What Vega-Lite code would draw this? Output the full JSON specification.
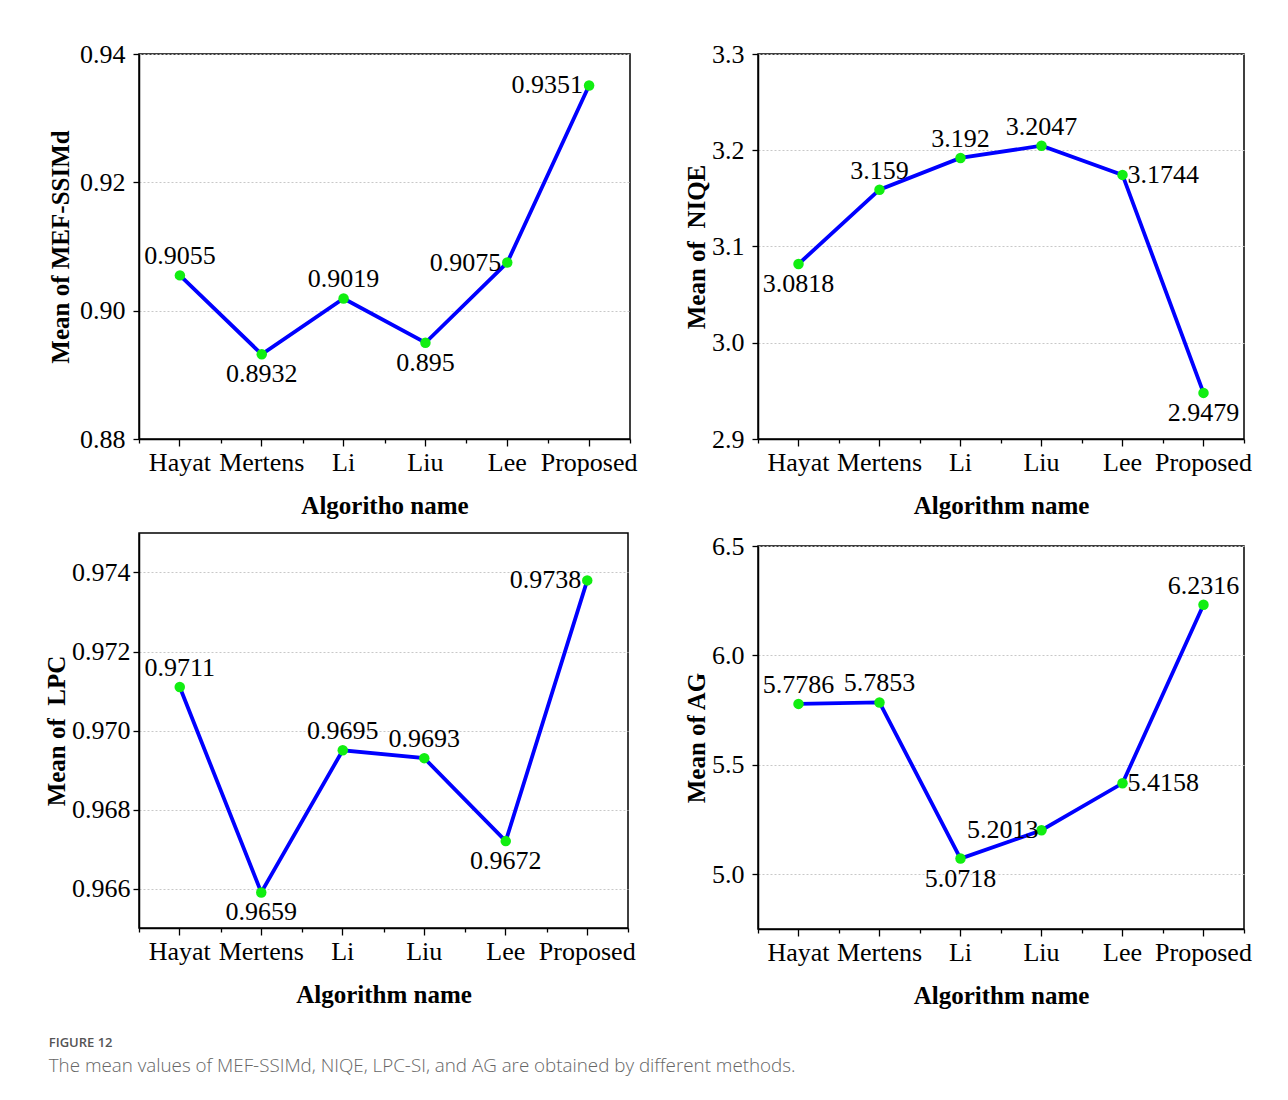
{
  "$schema": "https://vega.github.io/schema/vega-lite/v6.json",
  "background": "white",
  "padding": {"left": 43, "top": 40, "right": 10, "bottom": 10},
  "datasets": {
    "means": [
      {"metric": "MEF-SSIMd", "alg": "Hayat", "value": 0.9055},
      {"metric": "MEF-SSIMd", "alg": "Mertens", "value": 0.8932},
      {"metric": "MEF-SSIMd", "alg": "Li", "value": 0.9019},
      {"metric": "MEF-SSIMd", "alg": "Liu", "value": 0.895},
      {"metric": "MEF-SSIMd", "alg": "Lee", "value": 0.9075},
      {"metric": "MEF-SSIMd", "alg": "Proposed", "value": 0.9351},
      {"metric": "NIQE", "alg": "Hayat", "value": 3.0818},
      {"metric": "NIQE", "alg": "Mertens", "value": 3.159},
      {"metric": "NIQE", "alg": "Li", "value": 3.192},
      {"metric": "NIQE", "alg": "Liu", "value": 3.2047},
      {"metric": "NIQE", "alg": "Lee", "value": 3.1744},
      {"metric": "NIQE", "alg": "Proposed", "value": 2.9479},
      {"metric": "LPC", "alg": "Hayat", "value": 0.9711},
      {"metric": "LPC", "alg": "Mertens", "value": 0.9659},
      {"metric": "LPC", "alg": "Li", "value": 0.9695},
      {"metric": "LPC", "alg": "Liu", "value": 0.9693},
      {"metric": "LPC", "alg": "Lee", "value": 0.9672},
      {"metric": "LPC", "alg": "Proposed", "value": 0.9738},
      {"metric": "AG", "alg": "Hayat", "value": 5.7786},
      {"metric": "AG", "alg": "Mertens", "value": 5.7853},
      {"metric": "AG", "alg": "Li", "value": 5.0718},
      {"metric": "AG", "alg": "Liu", "value": 5.2013},
      {"metric": "AG", "alg": "Lee", "value": 5.4158},
      {"metric": "AG", "alg": "Proposed", "value": 6.2316}
    ]
  },
  "data": {"name": "means"},
  "title": {
    "text": "FIGURE 12",
    "subtitle": "The mean values of MEF-SSIMd, NIQE, LPC-SI, and AG are obtained by different methods.",
    "orient": "bottom",
    "anchor": "start",
    "offset": 28,
    "dx": 5,
    "font": "Open Sans",
    "fontSize": 13,
    "fontWeight": 600,
    "color": "#555555",
    "subtitleFont": "Open Sans",
    "subtitleFontSize": 18.8,
    "subtitleFontWeight": 300,
    "subtitleColor": "#666666",
    "subtitlePadding": 7
  },
  "columns": 2,
  "align": {"row": "none", "column": "each"},
  "spacing": {"row": 13, "column": 45},
  "concat": [
    {
      "width": 491, "height": 385,
      "transform": [{"filter": "datum.metric === 'MEF-SSIMd'"}],
      "encoding": {
        "x": {"field": "alg", "type": "nominal", "sort": ["Hayat", "Mertens", "Li", "Liu", "Lee", "Proposed"], "scale": {"type": "band", "paddingInner": 0, "paddingOuter": 0}, "axis": null},
        "y": {"field": "value", "type": "quantitative", "scale": {"domain": [0.88, 0.94], "nice": false, "zero": false}, "axis": {"values": [0.88, 0.9, 0.92, 0.94], "format": ".2f", "title": "Mean of MEF-SSIMd"}}
      },
      "layer": [
        {"mark": {"type": "point", "opacity": 0}, "encoding": {"x": {"field": "alg", "type": "nominal", "sort": ["Hayat", "Mertens", "Li", "Liu", "Lee", "Proposed"], "axis": {"orient": "bottom", "tickBand": "extent", "labels": false, "grid": false, "domain": false, "tickSize": 4, "title": null}}}},
        {"mark": {"type": "line", "color": "#0000ff", "strokeWidth": 3.8}, "encoding": {"x": {"field": "alg", "type": "nominal", "sort": ["Hayat", "Mertens", "Li", "Liu", "Lee", "Proposed"], "axis": {"orient": "bottom", "bandPosition": 0.5, "tickSize": 7, "title": "Algoritho name"}}}},
        {"mark": {"type": "circle", "size": 110, "color": "#11ee11", "opacity": 1}},
        {"mark": {"type": "text", "dy": -19}, "transform": [{"filter": {"field": "alg", "oneOf": ["Hayat", "Li"]}}], "encoding": {"text": {"field": "value", "type": "quantitative", "format": "~g"}}},
        {"mark": {"type": "text", "dy": 20}, "transform": [{"filter": {"field": "alg", "oneOf": ["Mertens", "Liu"]}}], "encoding": {"text": {"field": "value", "type": "quantitative", "format": "~g"}}},
        {"mark": {"type": "text", "align": "right", "dx": -6}, "transform": [{"filter": {"field": "alg", "oneOf": ["Lee", "Proposed"]}}], "encoding": {"text": {"field": "value", "type": "quantitative", "format": "~g"}}}
      ],
      "resolve": {"axis": {"x": "independent"}}
    },
    {
      "width": 486, "height": 385,
      "transform": [{"filter": "datum.metric === 'NIQE'"}],
      "encoding": {
        "x": {"field": "alg", "type": "nominal", "sort": ["Hayat", "Mertens", "Li", "Liu", "Lee", "Proposed"], "scale": {"type": "band", "paddingInner": 0, "paddingOuter": 0}, "axis": null},
        "y": {"field": "value", "type": "quantitative", "scale": {"domain": [2.9, 3.3], "nice": false, "zero": false}, "axis": {"values": [2.9, 3.0, 3.1, 3.2, 3.3], "format": ".1f", "title": "Mean of\u00a0 NIQE", "titlePadding": 2}}
      },
      "layer": [
        {"mark": {"type": "point", "opacity": 0}, "encoding": {"x": {"field": "alg", "type": "nominal", "sort": ["Hayat", "Mertens", "Li", "Liu", "Lee", "Proposed"], "axis": {"orient": "bottom", "tickBand": "extent", "labels": false, "grid": false, "domain": false, "tickSize": 4, "title": null}}}},
        {"mark": {"type": "line", "color": "#0000ff", "strokeWidth": 3.8}, "encoding": {"x": {"field": "alg", "type": "nominal", "sort": ["Hayat", "Mertens", "Li", "Liu", "Lee", "Proposed"], "axis": {"orient": "bottom", "bandPosition": 0.5, "tickSize": 7, "title": "Algorithm name"}}}},
        {"mark": {"type": "circle", "size": 110, "color": "#11ee11", "opacity": 1}},
        {"mark": {"type": "text", "dy": -19}, "transform": [{"filter": {"field": "alg", "oneOf": ["Mertens", "Li", "Liu"]}}], "encoding": {"text": {"field": "value", "type": "quantitative", "format": "~g"}}},
        {"mark": {"type": "text", "dy": 20}, "transform": [{"filter": {"field": "alg", "oneOf": ["Hayat", "Proposed"]}}], "encoding": {"text": {"field": "value", "type": "quantitative", "format": "~g"}}},
        {"mark": {"type": "text", "align": "left", "dx": 5}, "transform": [{"filter": {"field": "alg", "oneOf": ["Lee"]}}], "encoding": {"text": {"field": "value", "type": "quantitative", "format": "~g"}}}
      ],
      "resolve": {"axis": {"x": "independent"}}
    },
    {
      "width": 489, "height": 395,
      "transform": [{"filter": "datum.metric === 'LPC'"}],
      "encoding": {
        "x": {"field": "alg", "type": "nominal", "sort": ["Hayat", "Mertens", "Li", "Liu", "Lee", "Proposed"], "scale": {"type": "band", "paddingInner": 0, "paddingOuter": 0}, "axis": null},
        "y": {"field": "value", "type": "quantitative", "scale": {"domain": [0.965, 0.975], "nice": false, "zero": false}, "axis": {"values": [0.966, 0.968, 0.97, 0.972, 0.974], "format": ".3f", "title": "Mean of\u00a0 LPC", "labelPadding": 3, "titlePadding": 2}}
      },
      "layer": [
        {"mark": {"type": "point", "opacity": 0}, "encoding": {"x": {"field": "alg", "type": "nominal", "sort": ["Hayat", "Mertens", "Li", "Liu", "Lee", "Proposed"], "axis": {"orient": "bottom", "tickBand": "extent", "labels": false, "grid": false, "domain": false, "tickSize": 4, "title": null}}}},
        {"mark": {"type": "line", "color": "#0000ff", "strokeWidth": 3.8}, "encoding": {"x": {"field": "alg", "type": "nominal", "sort": ["Hayat", "Mertens", "Li", "Liu", "Lee", "Proposed"], "axis": {"orient": "bottom", "bandPosition": 0.5, "tickSize": 7, "title": "Algorithm name"}}}},
        {"mark": {"type": "circle", "size": 110, "color": "#11ee11", "opacity": 1}},
        {"mark": {"type": "text", "dy": -19}, "transform": [{"filter": {"field": "alg", "oneOf": ["Hayat", "Li", "Liu"]}}], "encoding": {"text": {"field": "value", "type": "quantitative", "format": "~g"}}},
        {"mark": {"type": "text", "dy": 20}, "transform": [{"filter": {"field": "alg", "oneOf": ["Mertens", "Lee"]}}], "encoding": {"text": {"field": "value", "type": "quantitative", "format": "~g"}}},
        {"mark": {"type": "text", "align": "right", "dx": -6}, "transform": [{"filter": {"field": "alg", "oneOf": ["Proposed"]}}], "encoding": {"text": {"field": "value", "type": "quantitative", "format": "~g"}}}
      ],
      "resolve": {"axis": {"x": "independent"}}
    },
    {
      "width": 486, "height": 383,
      "transform": [{"filter": "datum.metric === 'AG'"}],
      "encoding": {
        "x": {"field": "alg", "type": "nominal", "sort": ["Hayat", "Mertens", "Li", "Liu", "Lee", "Proposed"], "scale": {"type": "band", "paddingInner": 0, "paddingOuter": 0}, "axis": null},
        "y": {"field": "value", "type": "quantitative", "scale": {"domain": [4.75, 6.5], "nice": false, "zero": false}, "axis": {"values": [5.0, 5.5, 6.0, 6.5], "format": ".1f", "title": "Mean of AG", "titlePadding": 2}}
      },
      "layer": [
        {"mark": {"type": "point", "opacity": 0}, "encoding": {"x": {"field": "alg", "type": "nominal", "sort": ["Hayat", "Mertens", "Li", "Liu", "Lee", "Proposed"], "axis": {"orient": "bottom", "tickBand": "extent", "labels": false, "grid": false, "domain": false, "tickSize": 4, "title": null}}}},
        {"mark": {"type": "line", "color": "#0000ff", "strokeWidth": 3.8}, "encoding": {"x": {"field": "alg", "type": "nominal", "sort": ["Hayat", "Mertens", "Li", "Liu", "Lee", "Proposed"], "axis": {"orient": "bottom", "bandPosition": 0.5, "tickSize": 7, "title": "Algorithm name"}}}},
        {"mark": {"type": "circle", "size": 110, "color": "#11ee11", "opacity": 1}},
        {"mark": {"type": "text", "dy": -19}, "transform": [{"filter": {"field": "alg", "oneOf": ["Hayat", "Mertens", "Proposed"]}}], "encoding": {"text": {"field": "value", "type": "quantitative", "format": "~g"}}},
        {"mark": {"type": "text", "dy": 20}, "transform": [{"filter": {"field": "alg", "oneOf": ["Li"]}}], "encoding": {"text": {"field": "value", "type": "quantitative", "format": "~g"}}},
        {"mark": {"type": "text", "align": "right", "dx": -3}, "transform": [{"filter": {"field": "alg", "oneOf": ["Liu"]}}], "encoding": {"text": {"field": "value", "type": "quantitative", "format": "~g"}}},
        {"mark": {"type": "text", "align": "left", "dx": 5}, "transform": [{"filter": {"field": "alg", "oneOf": ["Lee"]}}], "encoding": {"text": {"field": "value", "type": "quantitative", "format": "~g"}}}
      ],
      "resolve": {"axis": {"x": "independent"}}
    }
  ],
  "config": {
    "view": {"stroke": "#000000", "strokeWidth": 1.5},
    "axis": {
      "labelFont": "Liberation Serif",
      "labelFontSize": 26,
      "labelColor": "#000000",
      "titleFont": "Liberation Serif",
      "titleFontSize": 25,
      "titleFontWeight": "bold",
      "titleColor": "#000000",
      "domainColor": "#000000",
      "domainWidth": 1.5,
      "tickColor": "#000000",
      "tickWidth": 1.3,
      "grid": true,
      "gridColor": "#c8c8c8",
      "gridDash": [2, 2],
      "gridWidth": 1
    },
    "axisY": {"tickSize": 6, "labelPadding": 8, "titlePadding": 6},
    "axisX": {"labelAngle": 0, "labelPadding": 3, "titlePadding": 18, "labelOverlap": false, "labelFlush": false, "labelBound": false},
    "text": {"font": "Liberation Serif", "fontSize": 26, "color": "#000000"}
  }
}
